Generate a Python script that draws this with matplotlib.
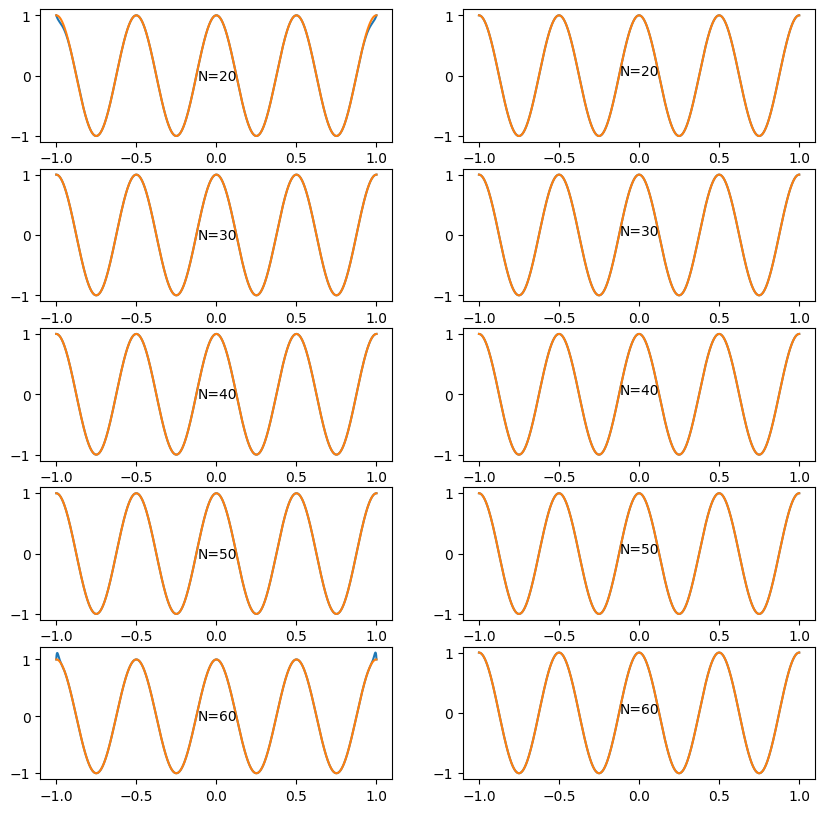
import matplotlib
matplotlib.use("Agg")
import matplotlib.pyplot as plt
import numpy as np

# number of intervals N for each row (N + 1 nodes)
node_counts = [20, 30, 40, 50, 60]
x_range = [-1.0, 1.0]
freq = 4 * np.pi          # f(x) = cos(4*pi*x)
n_eval = 1000
label_x = -0.12
label_y_left = -0.07
label_y_right = 0.0


def f(x):
    return np.cos(freq * x)


def newton(nodes, values, x):
    # divided differences, then Horner-like evaluation
    c = values.astype(float).copy()
    n = len(nodes)
    for j in range(1, n):
        c[j:] = (c[j:] - c[j - 1:-1]) / (nodes[j:] - nodes[:n - j])
    result = np.full_like(x, c[-1])
    for k in range(n - 2, -1, -1):
        result = result * (x - nodes[k]) + c[k]
    return result


def lagrange(nodes, values, x):
    result = np.zeros_like(x)
    for j in range(len(nodes)):
        basis = np.ones_like(x)
        for m in range(len(nodes)):
            if m != j:
                basis *= (x - nodes[m]) / (nodes[j] - nodes[m])
        result += values[j] * basis
    return result


x = np.linspace(x_range[0], x_range[1], n_eval)
fig, axes = plt.subplots(5, 2, figsize=(10, 10))

for row, n in enumerate(node_counts):
    # equispaced nodes
    nodes_eq = np.linspace(x_range[0], x_range[1], n + 1)
    ax = axes[row, 0]
    ax.plot(x, newton(nodes_eq, f(nodes_eq), x))
    ax.plot(x, f(x))
    ax.text(label_x, label_y_left, f"N={n}")

    # chebyshev nodes
    k = np.arange(n + 1)
    nodes_ch = np.cos((2 * k + 1) * np.pi / (2 * (n + 1)))
    ax = axes[row, 1]
    ax.plot(x, lagrange(nodes_ch, f(nodes_ch), x))
    ax.plot(x, f(x))
    ax.text(label_x, label_y_right, f"N={n}")

plt.savefig("out.png", bbox_inches="tight")
